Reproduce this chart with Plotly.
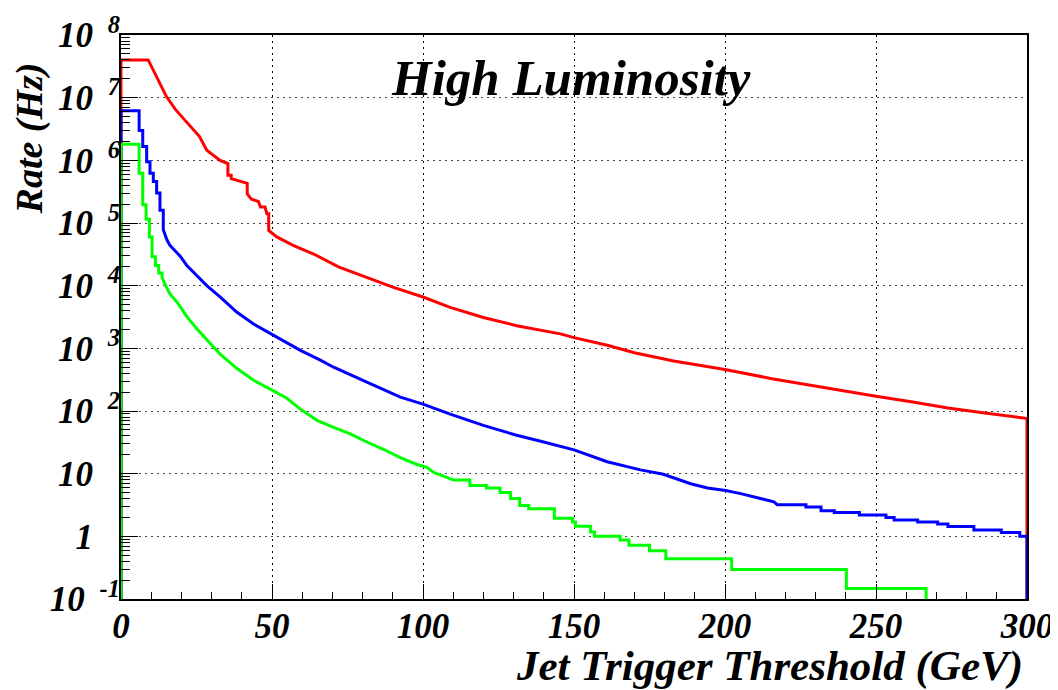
import plotly.graph_objects as go

# ---- data (rates in Hz vs jet trigger threshold in GeV) ----
BASE = 1e-3  # histogram baseline (below visible range)

red_x = [0, 0, 9, 10, 11, 13, 15, 18, 20.6, 23, 26, 28.4, 32.8, 35.4, 35.4, 36.5, 36.5, 41.8, 41.8,
         43.2, 45.5, 46.2, 47.7, 48.3, 48.9, 48.9, 51.6, 57, 63.8, 72, 81.4, 90, 100, 109, 120, 131,
         145.5, 150, 161, 170, 183, 200, 216, 229.5, 240.6, 250, 262.7, 273.8, 284.8, 296, 300, 300]
red_rate = [BASE, 4.0e7, 4.0e7, 3.2e7, 2.6e7, 1.7e7, 1.05e7, 6.5e6, 4.7e6, 3.4e6, 2.4e6, 1.45e6, 1.0e6, 8.9e5, 5.8e5, 5.8e5, 5.1e5, 4.3e5, 2.9e5,
            2.4e5, 2.2e5, 1.8e5, 1.8e5, 1.4e5, 1.4e5, 7.6e4, 6.0e4, 4.4e4, 3.2e4, 2.0e4, 1.35e4, 9.5e3, 6.6e3, 4.5e3, 3.1e3, 2.3e3,
            1.7e3, 1.48e3, 1.12e3, 8.5e2, 6.3e2, 4.6e2, 3.25e2, 2.5e2, 2.05e2, 1.72e2, 1.38e2, 1.12e2, 9.5e1, 8.1e1, 7.6e1, BASE]

blue_x = [0, 0, 6, 6, 7.2, 7.2, 8.5, 8.5, 9.6, 9.6, 10.7, 10.7, 11.8, 11.8, 12.9, 12.9, 14, 14, 15.2,
          16.2, 17.9, 19.6, 21.8, 25.1, 28.4, 32.8, 38.3, 43.9, 50, 54.9, 59.4, 66, 70.4, 81.4, 92.5, 100,
          109, 120, 131, 139, 145.5, 150, 161, 172, 179.6, 183, 188.6, 194.2, 200.2, 205.2, 210.7, 216.2,
          217.3, 226.8, 226.8, 231.8, 231.8, 236.2, 236.2, 244.5, 244.5, 253.3, 253.3, 256, 256, 263.8,
          263.8, 270.4, 270.4, 273.8, 273.8, 282.4, 282.4, 291.5, 291.5, 297.6, 297.6, 300, 300]
blue_rate = [BASE, 6.2e6, 6.2e6, 3.0e6, 3.0e6, 1.66e6, 1.66e6, 9.5e5, 9.5e5, 6.2e5, 6.2e5, 4.6e5, 4.6e5, 3.0e5, 3.0e5, 1.6e5, 1.6e5, 7.8e4, 5.4e4,
             4.4e4, 3.6e4, 2.95e4, 2.1e4, 1.45e4, 1.0e4, 6.6e3, 3.8e3, 2.45e3, 1.66e3, 1.23e3, 9.3e2, 6.5e2, 5.0e2, 2.9e2, 1.66e2, 1.29e2,
             8.9e1, 5.9e1, 4.1e1, 3.3e1, 2.7e1, 2.4e1, 1.55e1, 1.15e1, 9.8, 8.5, 6.9, 5.9, 5.4, 4.8, 4.1, 3.55,
             3.2, 3.2, 2.95, 2.95, 2.57, 2.57, 2.4, 2.4, 2.19, 2.19, 2.0, 2.0, 1.82, 1.82, 1.70,
             1.70, 1.58, 1.58, 1.43, 1.43, 1.26, 1.26, 1.15, 1.15, 1.0, 1.0, BASE]

green_x = [0, 0, 6, 6, 7.2, 7.2, 8.3, 8.3, 9.4, 9.4, 10.3, 10.3, 11.4, 11.4, 12.5, 12.5, 13.6, 13.6,
           14.8, 16.2, 18.5, 21.8, 25.1, 28.4, 32.8, 38.3, 43.9, 50, 54.9, 59.4, 64.9, 70.4, 75.9, 81.4,
           86.9, 92.5, 98, 101.3, 103.5, 107.9, 110,
           115.5, 115.5, 121, 121, 125.5, 125.5, 129, 129, 132, 132, 135, 135, 143.5, 143.5, 149.5, 149.5,
           150.5, 150.5, 155.5, 155.5, 156.8, 156.8, 165.3, 165.3, 168.2, 168.2, 175, 175, 180.4, 180.4,
           202.2, 202.2, 240.2, 240.2, 266.6, 266.6]
green_rate = [BASE, 1.8e6, 1.8e6, 6.2e5, 6.2e5, 1.95e5, 1.95e5, 1.15e5, 1.15e5, 6.0e4, 6.0e4, 2.9e4, 2.9e4, 2.1e4, 2.1e4, 1.6e4, 1.6e4, 1.35e4,
              1.0e4, 7.4e3, 5.5e3, 3.2e3, 2.05e3, 1.4e3, 8.1e2, 4.8e2, 3.1e2, 2.15e2, 1.6e2, 1.07e2, 7.1e1, 5.5e1, 4.3e1, 3.2e1,
              2.45e1, 1.8e1, 1.4e1, 1.26e1, 1.05e1, 8.7, 7.9,
              7.9, 6.5, 6.5, 5.9, 5.9, 5.0, 5.0, 4.0, 4.0, 3.1, 3.1, 2.75, 2.75, 1.95, 1.95, 1.7,
              1.7, 1.45, 1.45, 1.17, 1.17, 1.0, 1.0, 0.87, 0.87, 0.72, 0.72, 0.59, 0.59, 0.44,
              0.44, 0.295, 0.295, 0.147, 0.147, BASE]

assert len(red_x) == len(red_rate)
assert len(blue_x) == len(blue_rate)
assert len(green_x) == len(green_rate)

x_tick_vals = [0, 50, 100, 150, 200, 250, 300]
y_tick_vals = [1e-1, 1, 1e1, 1e2, 1e3, 1e4, 1e5, 1e6, 1e7, 1e8]
y_tick_base = ["10", "1", "10", "10", "10", "10", "10", "10", "10", "10"]
y_tick_exp = ["-1", "", "", "2", "3", "4", "5", "6", "7", "8"]

title_text = "High Luminosity"
x_title = "Jet Trigger Threshold (GeV)"
y_title = "Rate (Hz)"

# ---- build ----
FONT = "Liberation Serif"


def label(base, exp):
    if exp:
        return base + "&nbsp;<sup>&nbsp;" + exp + "</sup>"
    return base + "&nbsp;<sup>&nbsp;<span style='color:rgba(0,0,0,0)'>0</span></sup>"


y_tick_text = [label(b, e) for b, e in zip(y_tick_base, y_tick_exp)]

fig = go.Figure()
for xs, ys, col in [(red_x, red_rate, "#ff0000"),
                    (blue_x, blue_rate, "#0000ff"),
                    (green_x, green_rate, "#00ff00")]:
    fig.add_trace(go.Scatter(x=xs, y=ys, mode="lines",
                             line=dict(color=col, width=3, shape="linear"),
                             showlegend=False, hoverinfo="skip"))

tickfont = dict(family=FONT, size=35, color="black", weight="bold", style="italic")

# the page body adds an 8px margin, so the figure is drawn 8px smaller/shifted
fig.update_layout(
    width=1050, height=682,
    margin=dict(l=113, r=31, t=27, b=91),
    paper_bgcolor="white", plot_bgcolor="white",
    xaxis=dict(range=[0, 300], tickvals=x_tick_vals, ticktext=[str(v) for v in x_tick_vals],
               ticks="inside", ticklen=15, tickwidth=1, tickcolor="black",
               minor=dict(dtick=10, ticks="inside", ticklen=7, tickwidth=1, tickcolor="black", showgrid=False),
               showgrid=True, gridcolor="black", gridwidth=1, griddash="2px,4px",
               showline=True, linecolor="black", linewidth=2, mirror=True, automargin=False,
               zeroline=False, tickfont=tickfont, ticklabelstandoff=-5),
    yaxis=dict(type="log", range=[-1, 8], tickvals=y_tick_vals, ticktext=y_tick_text,
               ticks="inside", ticklen=17, tickwidth=1, tickcolor="black",
               minor=dict(dtick="D1", ticks="inside", ticklen=9, tickwidth=1, tickcolor="black", showgrid=False),
               showgrid=True, gridcolor="#444444", gridwidth=1, griddash="2px,4px",
               showline=True, linecolor="black", linewidth=2, mirror=True, automargin=False,
               zeroline=False, tickfont=tickfont, ticklabelstandoff=-8),
    annotations=[
        dict(text=title_text, xref="paper", yref="paper", x=0.497, y=0.924,
             xanchor="center", yanchor="middle", showarrow=False,
             font=dict(family=FONT, size=51, color="black", weight="bold", style="italic")),
        dict(text=x_title, xref="paper", yref="paper", x=0.998, y=-0.118,
             xanchor="right", yanchor="middle", showarrow=False,
             font=dict(family=FONT, size=43, color="black", weight="bold", style="italic")),
        dict(text=y_title, xref="paper", yref="paper", x=-0.1015, y=0.955,
             xanchor="center", yanchor="top", textangle=-90, showarrow=False,
             font=dict(family=FONT, size=38, color="black", weight="bold", style="italic")),
    ],
)

fig.write_html("out.html")
